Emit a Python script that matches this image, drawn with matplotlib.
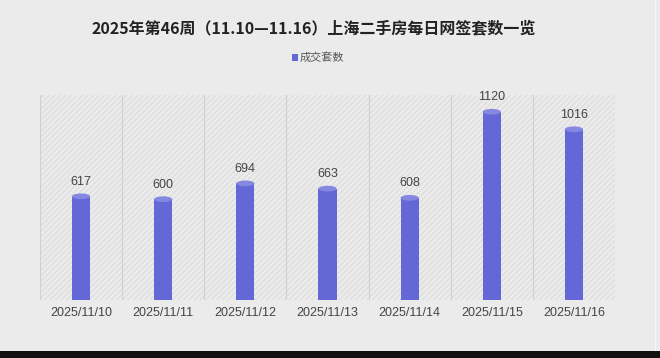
import matplotlib
matplotlib.use("Agg")
import matplotlib.pyplot as plt
from matplotlib.patches import Ellipse, Rectangle

plt.rcParams['font.family'] = ['Noto Sans CJK SC', 'DejaVu Sans']
plt.rcParams['hatch.linewidth'] = 0.6

dates = ["2025/11/10", "2025/11/11", "2025/11/12", "2025/11/13",
         "2025/11/14", "2025/11/15", "2025/11/16"]
deals = [617, 600, 694, 663, 608, 1120, 1016]
title = "2025年第46周（11.10—11.16）上海二手房每日网签套数一览"
legend_label = "成交套数"

bar_color = "#6467d6"
top_color = "#8587e0"
bg = "#ebebeb"
num_font = ['Liberation Sans', 'DejaVu Sans']

fig = plt.figure(figsize=(6.6, 3.58), dpi=100, facecolor=bg)
ax = fig.add_axes([40 / 660, 1 - 300 / 358, 575 / 660, 205 / 358])
ax.set_facecolor(bg)

n = len(dates)
ymax = 1220
ax.set_xlim(-0.5, n - 0.5)
ax.set_ylim(0, ymax)

# hatched background panel
ax.add_patch(Rectangle((-0.5, 0), n, ymax, facecolor=bg, edgecolor="#d8d8d8",
                       hatch="//////", linewidth=0, zorder=0))
for i in range(n + 1):
    ax.axvline(i - 0.5, color="#d0d0d0", linewidth=0.8, zorder=1)

bw = 0.22
eh = 34
xs = list(range(n))
ax.bar(xs, deals, width=bw, color=bar_color, zorder=3, label=legend_label)
for x, v in zip(xs, deals):
    ax.add_patch(Ellipse((x, 0), bw, eh, facecolor=bar_color, edgecolor="none", zorder=3))
    ax.add_patch(Ellipse((x, v), bw, eh, facecolor=top_color, edgecolor="none", zorder=4))
    ax.text(x, v + 50, str(v), ha="center", va="bottom", fontsize=9,
            color="#444444", family=num_font)

ax.set_xticks(xs)
ax.set_xticklabels(dates, fontsize=9, color="#444444", family=num_font)
ax.tick_params(axis="x", length=0, pad=5)
ax.set_yticks([])
for s in ax.spines.values():
    s.set_visible(False)

fig.text(314 / 660, 1 - 28 / 358, title, ha="center", va="center", fontsize=11.5,
         fontweight="bold", color="#222222")
fig.patches.append(Rectangle((292 / 660, 1 - 61 / 358), 6 / 660, 7 / 358,
                             transform=fig.transFigure, facecolor=bar_color,
                             edgecolor="none"))
fig.text(300 / 660, 1 - 57 / 358, legend_label, ha="left", va="center",
         fontsize=8, color="#555555")

# card edge on the right and dark strip at the bottom of the screenshot
fig.patches.append(Rectangle((655 / 660, 0), 1 / 660, 1, transform=fig.transFigure,
                             facecolor="#f6f6f6", edgecolor="none"))
fig.patches.append(Rectangle((0, 0), 1, 7 / 358, transform=fig.transFigure,
                             facecolor="#111111", edgecolor="none"))

fig.savefig("out.png", dpi=100, facecolor=bg)
